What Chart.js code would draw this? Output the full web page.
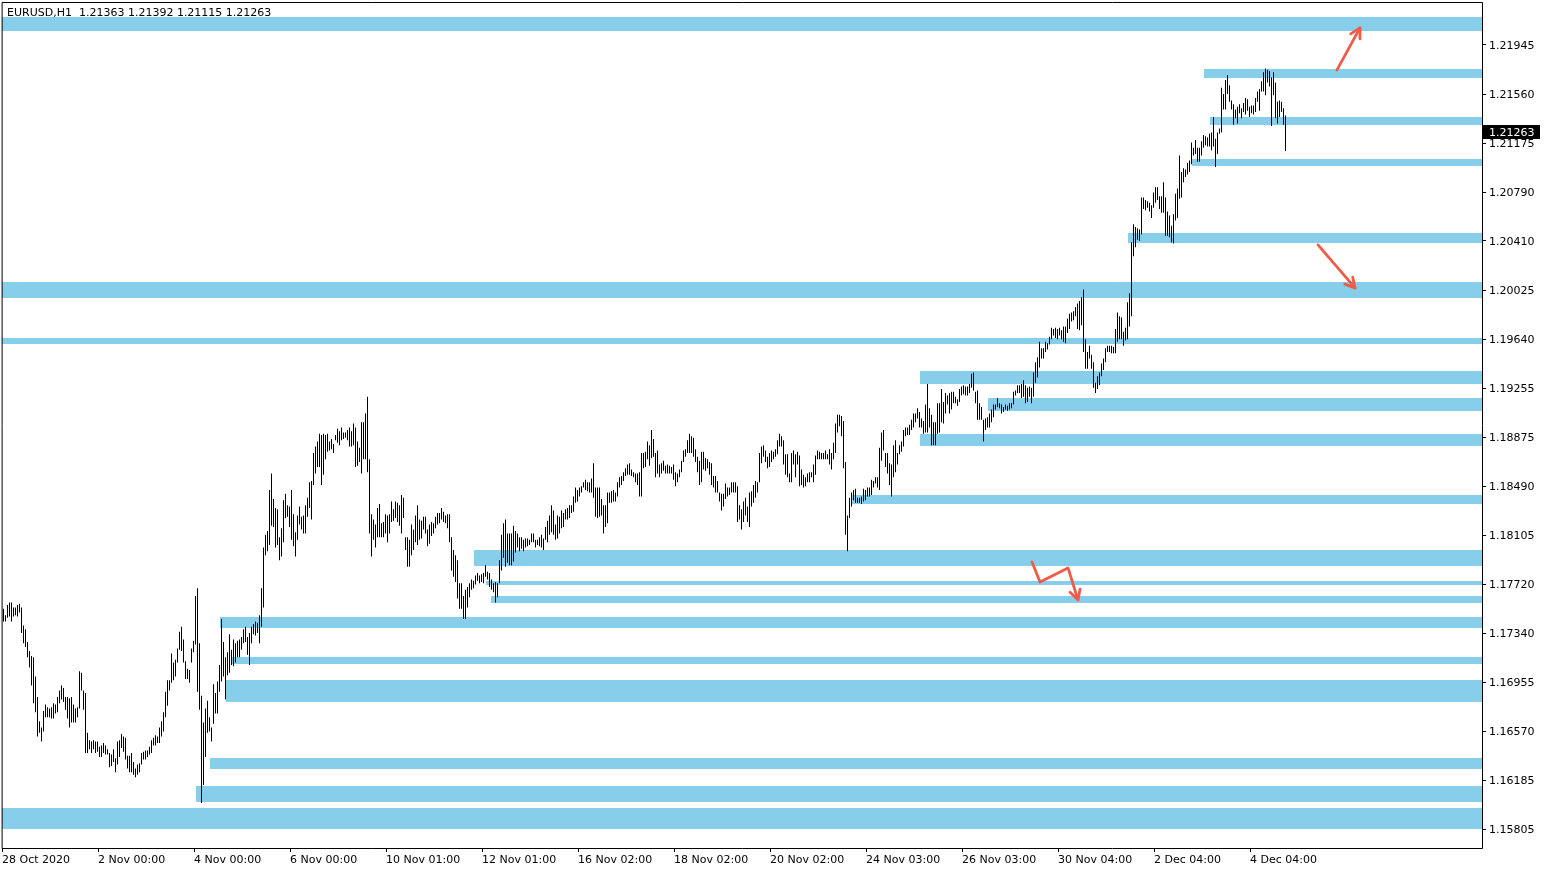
<!DOCTYPE html>
<html><head><meta charset="utf-8">
<script src="https://cdn.jsdelivr.net/npm/chart.js@4.4.0/dist/chart.umd.min.js"></script>
<style>html,body{margin:0;padding:0;background:#fff;overflow:hidden}canvas{display:block}</style>
</head><body>
<canvas id="c" width="1546" height="872" style="width:1546px;height:872px"></canvas>
<script>
const titleText = "EURUSD,H1  1.21363 1.21392 1.21115 1.21263";
const lastClose = 1.21263;

const highs = [
1.1753,1.1748,1.1756,1.1758,1.1758,1.1754,1.1754,1.1756,1.1757,1.1754,
1.1740,1.1737,1.1727,1.1720,1.1716,1.1715,1.1700,1.1684,1.1665,1.1660,
1.1673,1.1678,1.1676,1.1675,1.1676,1.1679,1.1678,1.1684,1.1689,1.1693,
1.1691,1.1684,1.1684,1.1683,1.1684,1.1678,1.1675,1.1676,1.1704,1.1703,
1.1689,1.1687,1.1656,1.1650,1.1649,1.1650,1.1649,1.1649,1.1645,1.1646,
1.1648,1.1646,1.1643,1.1640,
1.1639,1.1643,1.1636,1.1649,1.1650,1.1655,1.1653,1.1652,1.1638,1.1638,
1.1640,1.1633,1.1628,1.1631,1.1632,1.1640,1.1641,1.1642,1.1642,1.1645,
1.1650,1.1652,1.1654,1.1653,1.1660,1.1665,1.1672,1.1688,1.1697,1.1697,
1.1718,1.1711,1.1713,1.1722,1.1735,1.1739,1.1729,1.1712,1.1706,1.1705,
1.1722,1.1728,1.1763,1.1769,1.1726,1.1685,1.1664,1.1675,1.1681,1.1668,
1.1660,1.1694,1.1687,1.1696,
1.1709,1.1745,1.1727,1.1715,1.1719,1.1733,1.1721,1.1729,1.1726,1.1728,
1.1729,1.1731,1.1737,1.1739,1.1731,1.1734,1.1739,1.1741,1.1743,1.1742,
1.1748,1.1769,1.1801,1.1811,1.1814,1.1846,1.1859,1.1839,1.1832,1.1831,
1.1809,1.1816,1.1838,1.1843,1.1834,1.1833,1.1846,1.1827,1.1813,1.1826,
1.1833,1.1825,1.1826,1.1834,1.1840,1.1852,1.1853,1.1875,1.1880,1.1884,
1.1890,1.1889,1.1890,1.1889,
1.1890,1.1884,1.1886,1.1882,1.1889,1.1894,1.1892,1.1895,1.1891,1.1891,
1.1893,1.1895,1.1892,1.1898,1.1895,1.1884,1.1879,1.1899,1.1899,1.1906,
1.1919,1.1870,1.1827,1.1823,1.1819,1.1832,1.1835,1.1820,1.1821,1.1827,
1.1826,1.1827,1.1837,1.1831,1.1837,1.1836,1.1834,1.1842,1.1840,1.1809,
1.1809,1.1807,1.1819,1.1815,1.1826,1.1834,1.1823,1.1822,1.1825,1.1825,
1.1815,1.1819,1.1821,1.1820,
1.1825,1.1828,1.1828,1.1832,1.1829,1.1826,1.1827,1.1827,1.1809,1.1799,
1.1795,1.1791,1.1773,1.1773,1.1763,1.1768,1.1770,1.1773,1.1776,1.1775,
1.1779,1.1781,1.1779,1.1780,1.1781,1.1787,1.1782,1.1781,1.1776,1.1773,
1.1774,1.1773,1.1791,1.1811,1.1820,1.1823,1.1812,1.1812,1.1812,1.1818,
1.1814,1.1812,1.1809,1.1809,1.1807,1.1808,1.1808,1.1807,1.1812,1.1812,
1.1807,1.1807,1.1809,1.1811,
1.1808,1.1817,1.1822,1.1826,1.1834,1.1830,1.1819,1.1826,1.1825,1.1830,
1.1828,1.1831,1.1832,1.1834,1.1834,1.1841,1.1848,1.1846,1.1848,1.1849,
1.1852,1.1854,1.1852,1.1852,1.1855,1.1867,1.1848,1.1848,1.1848,1.1839,
1.1834,1.1834,1.1844,1.1844,1.1845,1.1846,1.1844,1.1852,1.1856,1.1857,
1.1860,1.1863,1.1866,1.1867,1.1862,1.1860,1.1859,1.1859,1.1860,1.1875,
1.1875,1.1876,1.1884,1.1881,
1.1893,1.1886,1.1875,1.1877,1.1866,1.1867,1.1869,1.1865,1.1866,1.1865,
1.1864,1.1866,1.1860,1.1859,1.1862,1.1869,1.1877,1.1878,1.1885,1.1890,
1.1888,1.1887,1.1878,1.1872,1.1869,1.1876,1.1876,1.1871,1.1870,1.1868,
1.1867,1.1857,1.1857,1.1853,1.1844,1.1843,1.1843,1.1851,1.1848,1.1848,
1.1852,1.1852,1.1852,1.1849,1.1834,1.1831,1.1837,1.1840,1.1833,1.1844,
1.1845,1.1850,1.1853,1.1852,
1.1875,1.1880,1.1881,1.1877,1.1872,1.1875,1.1877,1.1876,1.1878,1.1885,
1.1890,1.1888,1.1885,1.1874,1.1874,1.1859,1.1875,1.1877,1.1874,1.1876,
1.1873,1.1862,1.1858,1.1856,1.1859,1.1860,1.1860,1.1866,1.1873,1.1877,
1.1876,1.1875,1.1875,1.1877,1.1874,1.1878,1.1875,1.1883,1.1898,1.1905,
1.1905,1.1904,1.1900,1.1868,1.1826,1.1840,1.1844,1.1846,1.1847,1.1840,
1.1840,1.1841,1.1847,1.1846,
1.1848,1.1848,1.1854,1.1853,1.1856,1.1856,1.1879,1.1891,1.1893,1.1875,
1.1875,1.1867,1.1866,1.1881,1.1885,1.1875,1.1881,1.1884,1.1893,1.1895,
1.1895,1.1897,1.1901,1.1906,1.1906,1.1910,1.1907,1.1902,1.1900,1.1913,
1.1929,1.1910,1.1905,1.1899,1.1899,1.1914,1.1914,1.1925,1.1915,1.1922,
1.1920,1.1922,1.1923,1.1923,1.1919,1.1917,1.1925,1.1927,1.1928,1.1927,
1.1927,1.1929,1.1937,1.1938,
1.1923,1.1924,1.1914,1.1911,1.1901,1.1902,1.1903,1.1906,1.1909,1.1913,
1.1913,1.1918,1.1914,1.1913,1.1911,1.1913,1.1912,1.1914,1.1914,1.1923,
1.1924,1.1928,1.1928,1.1929,1.1932,1.1928,1.1926,1.1927,1.1926,1.1938,
1.1946,1.1950,1.1962,1.1957,1.1957,1.1962,1.1961,1.1966,1.1973,1.1972,
1.1973,1.1972,1.1973,1.1971,1.1974,1.1974,1.1980,1.1984,1.1985,1.1986,
1.1989,1.1992,1.1994,1.1997,
1.2003,1.1964,1.1954,1.1959,1.1952,1.1946,1.1930,1.1935,1.1938,1.1945,
1.1949,1.1957,1.1959,1.1959,1.1959,1.1958,1.1972,1.1985,1.1982,1.1981,
1.1970,1.1973,1.1993,1.2000,1.2040,1.2054,1.2052,1.2051,1.2050,1.2075,
1.2075,1.2073,1.2072,1.2071,1.2069,1.2079,1.2083,1.2083,1.2076,1.2076,
1.2087,1.2075,1.2064,1.2061,1.2053,1.2062,1.2078,1.2082,1.2108,1.2095,
1.2098,1.2097,1.2102,1.2104,
1.2118,1.2114,1.2120,1.2114,1.2114,1.2119,1.2124,1.2123,1.2122,1.2125,
1.2126,1.2138,1.2121,1.2126,1.2129,1.2161,1.2156,1.2167,1.2171,1.2163,
1.2151,1.2148,1.2144,1.2146,1.2148,1.2145,1.2149,1.2153,1.2152,1.2146,
1.2147,1.2147,1.2153,1.2158,1.2160,1.2166,1.2173,1.2176,1.2175,1.2174,
1.2169,1.2173,1.2165,1.2150,1.2151,1.2150,1.2145,1.21392
];

const lows = [
1.1743,1.1743,1.1746,1.1747,1.1743,1.1747,1.1748,1.1747,1.1750,1.1734,
1.1726,1.1723,1.1715,1.1707,1.1693,1.1679,1.1672,1.1653,1.1656,1.1649,
1.1657,1.1668,1.1668,1.1668,1.1667,1.1667,1.1671,1.1672,1.1679,1.1682,
1.1680,1.1674,1.1667,1.1660,1.1664,1.1664,1.1664,1.1668,1.1675,1.1689,
1.1674,1.1640,1.1640,1.1643,1.1640,1.1643,1.1640,1.1641,1.1637,1.1637,
1.1640,1.1639,1.1639,1.1629,
1.1630,1.1633,1.1625,1.1631,1.1637,1.1644,1.1641,1.1635,1.1628,1.1625,
1.1625,1.1623,1.1621,1.1623,1.1625,1.1631,1.1635,1.1635,1.1637,1.1639,
1.1640,1.1646,1.1646,1.1648,1.1648,1.1653,1.1657,1.1668,1.1677,1.1689,
1.1695,1.1697,1.1700,1.1711,1.1721,1.1720,1.1711,1.1698,1.1698,1.1695,
1.1711,1.1719,1.1725,1.1688,1.1674,1.1601,1.1615,1.1637,1.1656,1.1657,
1.1649,1.1663,1.1671,1.1671,
1.1688,1.1696,1.1700,1.1682,1.1701,1.1703,1.1709,1.1708,1.1711,1.1715,
1.1715,1.1721,1.1726,1.1727,1.1717,1.1709,1.1726,1.1733,1.1732,1.1734,
1.1726,1.1739,1.1754,1.1795,1.1798,1.1803,1.1818,1.1817,1.1801,1.1803,
1.1791,1.1794,1.1805,1.1824,1.1825,1.1817,1.1807,1.1802,1.1794,1.1807,
1.1819,1.1815,1.1812,1.1812,1.1825,1.1832,1.1823,1.1850,1.1859,1.1864,
1.1864,1.1850,1.1858,1.1870,
1.1876,1.1877,1.1878,1.1875,1.1885,1.1883,1.1881,1.1885,1.1886,1.1887,
1.1885,1.1880,1.1880,1.1881,1.1864,1.1865,1.1868,1.1859,1.1870,1.1870,
1.1860,1.1812,1.1794,1.1807,1.1801,1.1809,1.1809,1.1809,1.1809,1.1812,
1.1805,1.1812,1.1821,1.1822,1.1824,1.1821,1.1818,1.1812,1.1824,1.1799,
1.1786,1.1786,1.1795,1.1799,1.1805,1.1803,1.1807,1.1808,1.1815,1.1812,
1.1802,1.1804,1.1810,1.1812,
1.1816,1.1819,1.1820,1.1823,1.1821,1.1820,1.1816,1.1805,1.1783,1.1778,
1.1774,1.1761,1.1753,1.1753,1.1745,1.1745,1.1754,1.1762,1.1768,1.1769,
1.1772,1.1775,1.1773,1.1774,1.1773,1.1778,1.1776,1.1770,1.1768,1.1766,
1.1758,1.1762,1.1773,1.1783,1.1793,1.1786,1.1789,1.1787,1.1787,1.1790,
1.1797,1.1801,1.1798,1.1800,1.1798,1.1801,1.1802,1.1803,1.1805,1.1805,
1.1801,1.1803,1.1802,1.1801,
1.1799,1.1807,1.1805,1.1811,1.1813,1.1811,1.1807,1.1808,1.1812,1.1816,
1.1817,1.1823,1.1823,1.1824,1.1828,1.1829,1.1836,1.1837,1.1841,1.1844,
1.1848,1.1846,1.1845,1.1844,1.1844,1.1840,1.1825,1.1824,1.1825,1.1826,
1.1812,1.1817,1.1820,1.1836,1.1836,1.1837,1.1837,1.1841,1.1848,1.1850,
1.1853,1.1857,1.1858,1.1858,1.1857,1.1856,1.1852,1.1850,1.1841,1.1841,
1.1863,1.1864,1.1870,1.1865,
1.1871,1.1872,1.1856,1.1859,1.1856,1.1859,1.1861,1.1859,1.1859,1.1859,
1.1859,1.1854,1.1849,1.1852,1.1856,1.1860,1.1868,1.1872,1.1875,1.1875,
1.1875,1.1872,1.1868,1.1860,1.1850,1.1852,1.1862,1.1861,1.1863,1.1858,
1.1850,1.1848,1.1844,1.1844,1.1837,1.1830,1.1833,1.1839,1.1841,1.1842,
1.1844,1.1844,1.1844,1.1821,1.1823,1.1815,1.1821,1.1826,1.1821,1.1817,
1.1833,1.1836,1.1840,1.1844,
1.1852,1.1867,1.1872,1.1868,1.1863,1.1864,1.1868,1.1870,1.1872,1.1874,
1.1880,1.1880,1.1866,1.1858,1.1856,1.1852,1.1852,1.1866,1.1856,1.1866,
1.1849,1.1850,1.1848,1.1849,1.1852,1.1852,1.1856,1.1852,1.1858,1.1870,
1.1870,1.1870,1.1870,1.1870,1.1870,1.1866,1.1862,1.1870,1.1875,1.1891,
1.1896,1.1888,1.1863,1.1811,1.1798,1.1824,1.1833,1.1838,1.1836,1.1836,
1.1836,1.1835,1.1837,1.1838,
1.1841,1.1841,1.1842,1.1848,1.1851,1.1848,1.1846,1.1869,1.1877,1.1864,
1.1859,1.1850,1.1841,1.1856,1.1860,1.1866,1.1874,1.1876,1.1880,1.1888,
1.1889,1.1889,1.1893,1.1895,1.1899,1.1902,1.1895,1.1895,1.1890,1.1891,
1.1891,1.1895,1.1881,1.1881,1.1881,1.1890,1.1891,1.1899,1.1898,1.1906,
1.1913,1.1906,1.1909,1.1914,1.1914,1.1912,1.1915,1.1920,1.1921,1.1920,
1.1920,1.1922,1.1926,1.1924,
1.1914,1.1901,1.1901,1.1901,1.1884,1.1893,1.1895,1.1895,1.1899,1.1903,
1.1909,1.1911,1.1910,1.1906,1.1907,1.1909,1.1908,1.1909,1.1910,1.1913,
1.1920,1.1922,1.1922,1.1918,1.1919,1.1914,1.1915,1.1919,1.1914,1.1919,
1.1930,1.1934,1.1942,1.1949,1.1949,1.1954,1.1956,1.1960,1.1964,1.1967,
1.1965,1.1964,1.1967,1.1964,1.1962,1.1961,1.1969,1.1972,1.1978,1.1979,
1.1982,1.1972,1.1971,1.1975,
1.1954,1.1941,1.1941,1.1949,1.1941,1.1926,1.1922,1.1925,1.1928,1.1935,
1.1940,1.1946,1.1954,1.1954,1.1953,1.1953,1.1953,1.1962,1.1964,1.1964,
1.1959,1.1963,1.1964,1.1974,1.1982,1.2029,1.2036,1.2042,1.2041,1.2046,
1.2066,1.2065,1.2067,1.2064,1.2059,1.2067,1.2071,1.2073,1.2066,1.2063,
1.2063,1.2045,1.2045,1.2044,1.2040,1.2039,1.2057,1.2059,1.2074,1.2075,
1.2087,1.2091,1.2093,1.2095,
1.2101,1.2108,1.2109,1.2103,1.2103,1.2108,1.2114,1.2116,1.2115,1.2115,
1.2112,1.2115,1.2099,1.2109,1.2125,1.2126,1.2144,1.2144,1.2156,1.2150,
1.2144,1.2132,1.2137,1.2133,1.2141,1.2137,1.2142,1.2140,1.2143,1.2138,
1.2141,1.2140,1.2142,1.2150,1.2143,1.2158,1.2158,1.2155,1.2165,1.2162,
1.2131,1.2155,1.2137,1.2133,1.2138,1.2142,1.2132,1.21115
];

const xTickLabels = ["28 Oct 2020","2 Nov 00:00","4 Nov 00:00","6 Nov 00:00","10 Nov 01:00","12 Nov 01:00","16 Nov 02:00","18 Nov 02:00","20 Nov 02:00","24 Nov 03:00","26 Nov 03:00","30 Nov 04:00","2 Dec 04:00","4 Dec 04:00"];
const barsPerLabel = 48;
const xMin = -0.75, xMax = 739.25;
const yTicks = [1.21945,1.21560,1.21175,1.20790,1.20410,1.20025,1.19640,1.19255,1.18875,1.18490,1.18105,1.17720,1.17340,1.16955,1.16570,1.16185,1.15805];
const yMin = 1.15657, yMax = 1.22281;

const zoneTop    = [1.22164,1.21757,1.21381,1.21052,1.20473,1.20089,1.19650,1.19392,1.19181,1.18899,1.18421,1.17990,1.17748,1.17630,1.17466,1.17153,1.16973,1.16362,1.16143,1.15970];
const zoneBottom = [1.22054,1.21686,1.21318,1.20997,1.20394,1.19964,1.19603,1.19290,1.19079,1.18805,1.18351,1.17865,1.17716,1.17575,1.17380,1.17098,1.16800,1.16276,1.16017,1.15806];
const zoneStartBar = [-0.75,600,603,594,562,-0.75,-0.75,458,492,458,424,235,241,244,108,114,111,103,96,-0.75];

const arrowX = [[666.75,678.25],[657.25,675.75],[514.25,518.25,532.25,537.25]];
const arrowY = [[1.21749,1.22078],[1.20379,1.20042],[1.17897,1.17740,1.17850,1.17600]];

const FONT = "DejaVu Sans";
const xTickBars = xTickLabels.map((_, k) => xMin + barsPerLabel * k);

const overlay = {
  id: 'overlay',
  beforeDatasetsDraw(chart) {
    const {ctx, chartArea: a, scales: {x, y}} = chart;
    ctx.save();
    ctx.beginPath(); ctx.rect(a.left, a.top, a.width, a.height); ctx.clip();
    ctx.fillStyle = '#87CEEB';
    zoneTop.forEach((t, i) => {
      const x0 = Math.max(a.left, x.getPixelForValue(zoneStartBar[i]));
      const y0 = Math.round(y.getPixelForValue(t));
      const y1 = Math.round(y.getPixelForValue(zoneBottom[i]));
      ctx.fillRect(Math.round(x0), y0, a.right - Math.round(x0), y1 - y0);
    });
    ctx.restore();
  },
  afterDraw(chart) {
    const {ctx, chartArea: a, scales: {x, y}} = chart;
    ctx.save();
    ctx.strokeStyle = '#F05B47';
    ctx.lineWidth = 2.8;
    ctx.lineCap = 'round';
    ctx.lineJoin = 'round';
    arrowX.forEach((xs, k) => {
      const pts = xs.map((v, j) => [x.getPixelForValue(v), y.getPixelForValue(arrowY[k][j])]);
      ctx.beginPath();
      pts.forEach((p, j) => j ? ctx.lineTo(p[0], p[1]) : ctx.moveTo(p[0], p[1]));
      ctx.stroke();
      const [px, py] = pts[pts.length - 2], [ex, ey] = pts[pts.length - 1];
      const ang = Math.atan2(ey - py, ex - px);
      const L = 11, w = 0.5;
      ctx.beginPath();
      ctx.moveTo(ex - L * Math.cos(ang - w), ey - L * Math.sin(ang - w));
      ctx.lineTo(ex, ey);
      ctx.lineTo(ex - L * Math.cos(ang + w), ey - L * Math.sin(ang + w));
      ctx.stroke();
    });
    ctx.strokeStyle = '#000';
    ctx.lineWidth = 1;
    ctx.strokeRect(a.left + 0.5, a.top + 0.5, a.width, a.height);
    ctx.fillStyle = '#000';
    ctx.font = '11px "' + FONT + '"';
    ctx.textBaseline = 'middle';
    ctx.textAlign = 'left';
    ctx.fillText(titleText, a.left + 5, a.top + 11);
    const py = Math.round(y.getPixelForValue(lastClose));
    ctx.fillStyle = '#000';
    ctx.fillRect(a.right + 1, py - 7, 57, 14);
    ctx.fillStyle = '#fff';
    ctx.fillText(lastClose.toFixed(5), a.right + 7, py + 1);
    ctx.restore();
  }
};

new Chart(document.getElementById('c'), {
  type: 'bar',
  data: {
    datasets: [{
      data: highs.map((h, i) => ({x: i, y: [lows[i], h]})),
      backgroundColor: '#000',
      borderWidth: 0,
      barThickness: 1,
      inflateAmount: 0
    }]
  },
  options: {
    responsive: false,
    animation: false,
    devicePixelRatio: 1,
    layout: {padding: {left: 2, top: 2, right: 0, bottom: 0}},
    plugins: {legend: {display: false}, tooltip: {enabled: false}, title: {display: false}},
    scales: {
      x: {
        type: 'linear', min: xMin, max: xMax, offset: false,
        grid: {display: true, drawOnChartArea: false, tickLength: 4, color: '#000', offset: false},
        border: {display: false},
        afterBuildTicks: s => { s.ticks = xTickBars.map(v => ({value: v})); },
        ticks: {autoSkip: false, maxRotation: 0, minRotation: 0, align: 'start', padding: 2,
                color: '#000', font: {family: FONT, size: 11},
                callback: (v, i) => xTickLabels[i]},
        afterFit: s => { s.height = 24; s.paddingLeft = 0; s.paddingRight = 0; }
      },
      y: {
        position: 'right', min: yMin, max: yMax,
        grid: {drawOnChartArea: false, tickLength: 4, color: '#000'},
        border: {display: false},
        afterBuildTicks: s => { s.ticks = yTicks.map(v => ({value: v})); },
        ticks: {autoSkip: false, padding: 3, labelOffset: 1, color: '#000', font: {family: FONT, size: 11},
                callback: v => v.toFixed(5)},
        afterFit: s => { s.width = 64; s.paddingTop = 0; s.paddingBottom = 0; }
      }
    }
  },
  plugins: [overlay]
});
</script>
</body></html>
